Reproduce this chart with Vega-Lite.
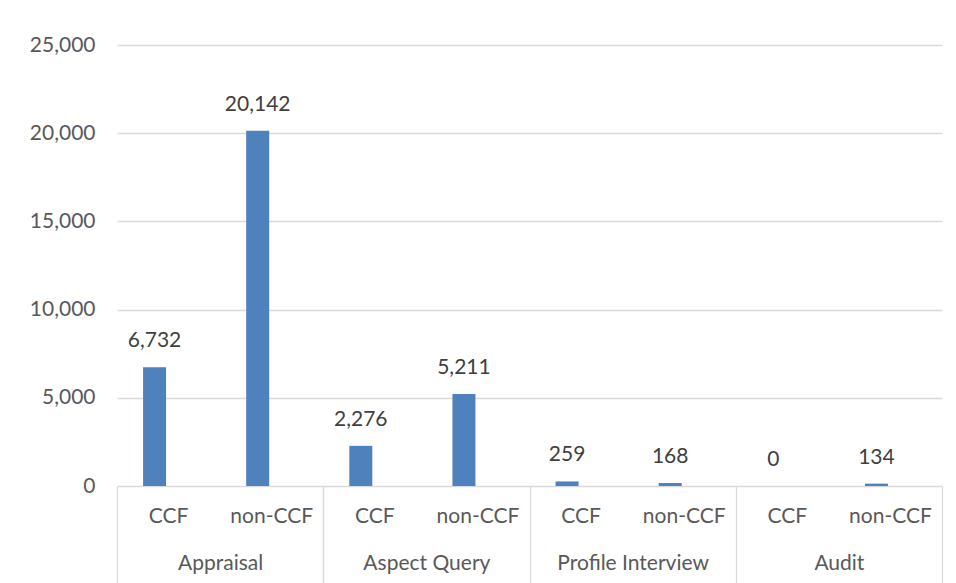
{
  "$schema": "https://vega.github.io/schema/vega-lite/v6.json",
  "width": 825,
  "height": 441,
  "autosize": {"type": "none"},
  "padding": {"left": 117, "top": 45, "right": 14, "bottom": 97},
  "background": "white",
  "config": {
    "view": {"stroke": null},
    "font": "Lato",
    "axis": {"labelFont": "Lato", "labelFontSize": 21, "labelColor": "#595959", "titleFontSize": 0}
  },
  "data": {
    "values": [
      {"group": "Appraisal", "sub": "CCF", "slot": "Appraisal|CCF", "value": 6732},
      {"group": "Appraisal", "sub": "non-CCF", "slot": "Appraisal|non-CCF", "value": 20142},
      {"group": "Aspect Query", "sub": "CCF", "slot": "Aspect Query|CCF", "value": 2276},
      {"group": "Aspect Query", "sub": "non-CCF", "slot": "Aspect Query|non-CCF", "value": 5211},
      {"group": "Profile Interview", "sub": "CCF", "slot": "Profile Interview|CCF", "value": 259},
      {"group": "Profile Interview", "sub": "non-CCF", "slot": "Profile Interview|non-CCF", "value": 168},
      {"group": "Audit", "sub": "CCF", "slot": "Audit|CCF", "value": 0},
      {"group": "Audit", "sub": "non-CCF", "slot": "Audit|non-CCF", "value": 134}
    ]
  },
  "layer": [
    {
      "encoding": {
        "x": {
          "field": "slot", "type": "nominal", "sort": null, "title": null,
          "scale": {"paddingInner": 0, "paddingOuter": 0},
          "axis": {
            "orient": "bottom", "domain": false, "ticks": false, "grid": false,
            "labelAngle": 0, "labelBaseline": "middle", "labelPadding": 30,
            "labelExpr": "split(datum.value, '|')[1]"
          }
        },
        "y": {
          "field": "value", "type": "quantitative", "title": null,
          "scale": {"domain": [0, 25000], "nice": false},
          "axis": {
            "values": [0, 5000, 10000, 15000, 20000, 25000], "format": ",d",
            "domain": false, "ticks": false, "labelPadding": 22,
            "gridColor": "#d9d9d9", "gridWidth": 1.3
          }
        }
      },
      "layer": [
        {"mark": {"type": "bar", "width": 23, "xOffset": -14, "color": "#4f81bd"}},
        {"mark": {"type": "text", "xOffset": -14, "dy": -20, "baseline": "alphabetic", "fontSize": 21, "color": "#404040", "font": "Lato"},
         "encoding": {"text": {"field": "value", "type": "quantitative", "format": ",d"}}}
      ]
    },
    {
      "mark": {"type": "tick", "opacity": 0},
      "encoding": {
        "x": {
          "field": "group", "type": "nominal", "sort": null, "title": null,
          "scale": {"paddingInner": 0, "paddingOuter": 0},
          "axis": {
            "orient": "bottom", "domain": false, "ticks": true, "tickBand": "extent",
            "tickSize": 97, "tickColor": "#d9d9d9", "tickWidth": 1.3, "grid": false,
            "labelAngle": 0, "labelBaseline": "middle", "labelPadding": -20
          }
        }
      }
    }
  ],
  "resolve": {"scale": {"x": "independent"}, "axis": {"x": "independent"}}
}
